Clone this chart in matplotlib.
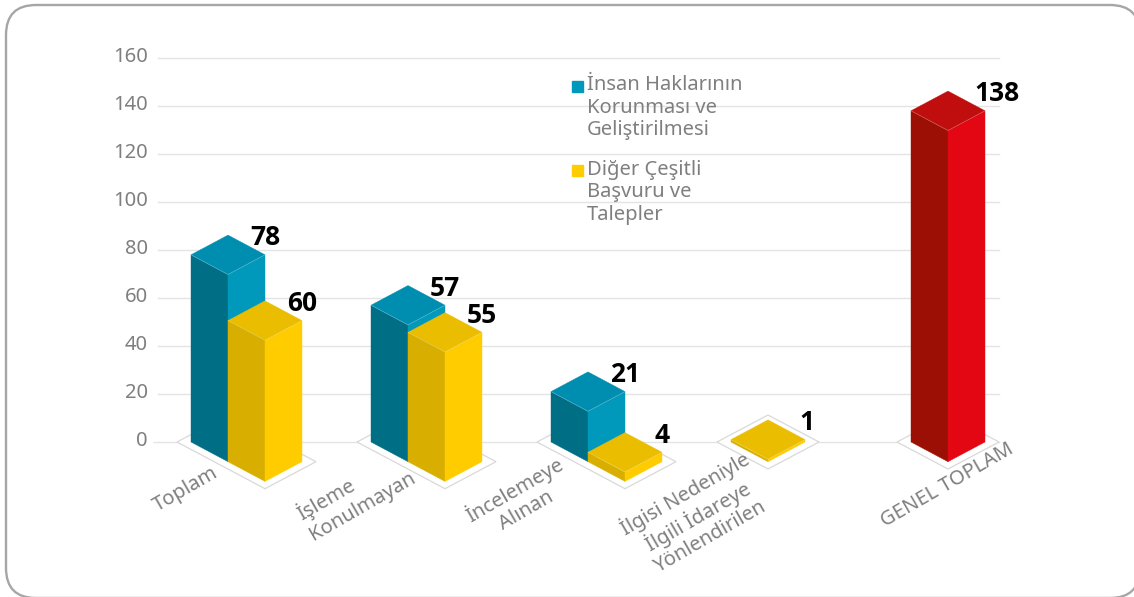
from __future__ import annotations

import matplotlib

matplotlib.use("Agg")
import matplotlib.pyplot as plt
from matplotlib.legend_handler import HandlerPatch
from matplotlib.patches import FancyBboxPatch, Patch, Polygon, Rectangle
from matplotlib.transforms import IdentityTransform, ScaledTranslation


CATEGORIES = [
    "Toplam",
    "İşleme\nKonulmayan",
    "İncelemeye\nAlınan",
    "İlgisi Nedeniyle\nİlgili İdareye\nYönlendirilen",
    "GENEL TOPLAM",
]
HUMAN_RIGHTS = [78, 57, 21, 0]
OTHER_REQUESTS = [60, 55, 4, 1]
GENERAL_TOTAL = 138
Y_TICKS = [0, 20, 40, 60, 80, 100, 120, 140, 160]
LEGEND_LABELS = ["İnsan Haklarının\nKorunması ve\nGeliştirilmesi", "Diğer Çeşitli\nBaşvuru ve\nTalepler"]

WIDTH, HEIGHT, DPI = 1134, 597, 100
PX = 72 / DPI
FONT = ["Noto Sans", "DejaVu Sans"]
BOLD_FONT = ["Open Sans", "DejaVu Sans"]
TEXT_SIZE = 14.5
GRAY = "#7f7f7f"
GRID = "#e4e4e4"
FLOOR = "#d9d9d9"
BLUE = {"side": "#006e85", "top": "#008eb0", "front": "#0099bc"}
YELLOW = {"side": "#d8ae00", "top": "#ebbd00", "front": "#ffcc00"}
RED = {"side": "#9c0f04", "top": "#c00d0d", "front": "#e30613"}

# pixel layout of the plot area
LEFT, RIGHT, TOP, BOTTOM = 158, 999, 58, 442
CATEGORY_STEP = 180
FIRST_CENTER = 228
UNIT = (BOTTOM - TOP) / 160

# isometric box sizes in data units
HALF_W = 37 / CATEGORY_STEP
DEPTH = 19.7 / UNIT
FLOOR_W = 51 / CATEGORY_STEP
FLOOR_D = 27 / UNIT
NEAR_SCALE = 0.98

plt.rcParams["font.family"] = FONT


def drawFloor(ax, center, double):
    shift = HALF_W if double else 0
    drop = DEPTH if double else 0
    corners = [
        (center - FLOOR_W, 0),
        (center, FLOOR_D),
        (center + shift + FLOOR_W, -drop),
        (center + shift, -drop - FLOOR_D),
    ]
    ax.add_patch(Polygon(corners, closed=True, facecolor="white", edgecolor=FLOOR, linewidth=0.9, clip_on=False, zorder=3))


def drawBar(ax, center, base, value, colors, zorder):
    top = base + value
    left = center - HALF_W
    right = center + HALF_W
    faces = [
        ([(left, base), (center, base - DEPTH), (center, top - DEPTH), (left, top)], colors["side"]),
        ([(center, base - DEPTH), (right, base), (right, top), (center, top - DEPTH)], colors["front"]),
        ([(left, top), (center, top + DEPTH), (right, top), (center, top - DEPTH)], colors["top"]),
    ]
    for corners, color in faces:
        ax.add_patch(Polygon(corners, closed=True, facecolor=color, edgecolor=color, linewidth=0.3, clip_on=False, zorder=zorder))
    ax.plot([left, center, right], [top, top - DEPTH, top], color="white", alpha=0.3, linewidth=0.5, clip_on=False, zorder=zorder + 0.1)
    return right, top


def drawValue(ax, corner, text, shift=0):
    ax.annotate(
        text,
        xy=corner,
        xytext=(shift * PX, 17 * PX),
        textcoords="offset points",
        ha="center",
        va="center",
        family=BOLD_FONT,
        fontsize=19,
        fontweight="bold",
        color="black",
        annotation_clip=False,
        zorder=20,
    )


def squareHandle(legend, orig_handle, xdescent, ydescent, width, height, fontsize):
    # square sits next to the first text line, not the middle of the entry
    return Rectangle((width - 11 * PX, height / 2 - 5.5 * PX + 22 * PX), 11 * PX, 11 * PX)


fig = plt.figure(figsize=(WIDTH / DPI, HEIGHT / DPI), dpi=DPI, facecolor="white")
fig.add_artist(
    FancyBboxPatch(
        (6, HEIGHT - 598),
        1134,
        593,
        boxstyle="round,pad=0,rounding_size=30",
        facecolor="white",
        edgecolor="#a6a6a6",
        linewidth=1.7,
        transform=IdentityTransform(),
        zorder=-5,
    )
)

ax = fig.add_axes([LEFT / WIDTH, (HEIGHT - BOTTOM) / HEIGHT, (RIGHT - LEFT) / WIDTH, (BOTTOM - TOP) / HEIGHT])
ax.patch.set_alpha(0)
ax.set_xlim((LEFT - FIRST_CENTER) / CATEGORY_STEP, (RIGHT - FIRST_CENTER) / CATEGORY_STEP)
ax.set_ylim(0, 160)
for spine in ax.spines.values():
    spine.set_visible(False)
ax.set_xticks([])
ax.set_yticks(Y_TICKS)
ax.tick_params(axis="y", length=0, pad=7.2, labelsize=TEXT_SIZE, labelcolor=GRAY)
ax.grid(axis="y", color=GRID, linewidth=1.0, clip_on=False)
ax.set_axisbelow(True)
labelShift = ScaledTranslation(0, 3 / DPI, fig.dpi_scale_trans)
for label in ax.get_yticklabels():
    label.set_transform(label.get_transform() + labelShift)
zeroTick = ax.yaxis.get_major_ticks()[0].tick1line
zeroTick.set_markersize(5 * PX)
zeroTick.set_markeredgecolor(GRID)
zeroTick.set_markeredgewidth(1.0)

for index, (first, second) in enumerate(zip(HUMAN_RIGHTS, OTHER_REQUESTS)):
    double = first > 0
    drawFloor(ax, index, double)
    if double:
        corner = drawBar(ax, index, 0, first, BLUE, 5)
        drawValue(ax, corner, str(first))
        corner = drawBar(ax, index + HALF_W, -DEPTH, second * NEAR_SCALE, YELLOW, 6)
        drawValue(ax, corner, str(second))
    else:
        corner = drawBar(ax, index, 0, second, YELLOW, 5)
        drawValue(ax, corner, str(second), shift=2)

lastIndex = len(HUMAN_RIGHTS)
drawFloor(ax, lastIndex, False)
corner = drawBar(ax, lastIndex, 0, GENERAL_TOTAL, RED, 5)
drawValue(ax, corner, str(GENERAL_TOTAL), shift=12)

# offsets of the rotated label centres from the category base, in pixels
LABEL_OFFSETS = [(-42, 47), (-52, 53), (-68, 58), (-71, 73), (-1, 43)]
LABEL_ALIGN = ["center", "left", "center", "center", "center"]
for index, name in enumerate(CATEGORIES):
    ax.annotate(
        name,
        xy=(index, 0),
        xytext=(LABEL_OFFSETS[index][0] * PX, -LABEL_OFFSETS[index][1] * PX),
        textcoords="offset points",
        ha="center",
        va="center",
        multialignment=LABEL_ALIGN[index],
        rotation=30,
        fontsize=TEXT_SIZE,
        color=GRAY,
        linespacing=1.18,
        annotation_clip=False,
        zorder=10,
    )

handles = [Patch(color=BLUE["front"]), Patch(color=YELLOW["front"])]
legend = ax.legend(
    handles,
    LEGEND_LABELS,
    handler_map={Patch: HandlerPatch(patch_func=squareHandle)},
    loc="upper left",
    bbox_to_anchor=((563 - LEFT) / (RIGHT - LEFT), (BOTTOM - 75) / (BOTTOM - TOP)),
    frameon=False,
    fontsize=TEXT_SIZE,
    labelcolor=GRAY,
    handlelength=1.0,
    handletextpad=0.2,
    labelspacing=0.95,
    borderpad=0,
    borderaxespad=0,
)
for text in legend.get_texts():
    text.set_linespacing(1.18)
legend.set_zorder(12)

fig.savefig("out.png", dpi=DPI)
